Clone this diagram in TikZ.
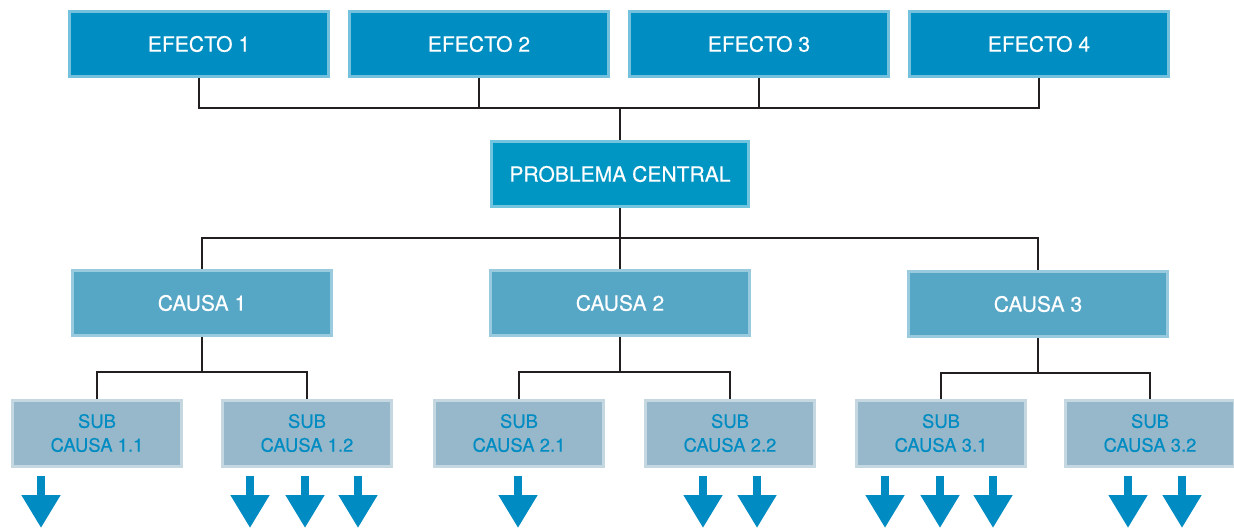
\documentclass[tikz,border=0pt]{standalone}
\usepackage{fontspec}
\setmainfont{TeX Gyre Heros}
\newfontfamily\boxfont{TeX Gyre Heros}[FakeBold=0.35]
\usetikzlibrary{arrows.meta,positioning}
\definecolor{efblue}{RGB}{0,142,194}
\definecolor{pcblue}{RGB}{0,150,196}
\definecolor{causablue}{RGB}{86,166,198}
\definecolor{subgray}{RGB}{150,184,202}
\definecolor{arrowblue}{RGB}{0,140,194}
\definecolor{linkgray}{RGB}{35,31,32}

\begin{document}
\begin{tikzpicture}[x=0.02cm, y=-0.02cm,
  box/.style={minimum width=5.18cm, minimum height=1.3cm, inner sep=0pt,
              line width=0.06cm, font=\boxfont\fontsize{12}{14}\selectfont},
  efecto/.style={box, fill=efblue, draw=efblue!55, text=white},
  central/.style={box, minimum width=5.14cm, minimum height=1.32cm, fill=pcblue, draw=pcblue!55, text=white},
  causa/.style={box, fill=causablue, draw=causablue!60, text=white},
  subbox/.style={box, minimum width=3.38cm, minimum height=1.32cm, fill=subgray,
                 draw=subgray!55, text=arrowblue, align=center,
                 font=\boxfont\fontsize{10.5}{13.6}\selectfont},
  link/.style={draw=linkgray, line width=0.05cm},
  down/.style={-{Triangle[length=6.6mm,width=7.4mm]}, arrowblue, line width=1.6mm}]
\useasboundingbox (0,0) rectangle (1234,531);

% effects
\node[efecto] (e1) at (199,44) {EFECTO 1};
\node[efecto] (e2) at (479,44) {EFECTO 2};
\node[efecto] (e3) at (759,44) {EFECTO 3};
\node[efecto] (e4) at (1039,44) {EFECTO 4};

% central problem
\node[central] (pc) at (620,174) {PROBLEMA CENTRAL};

% causes
\node[causa] (c1) at (202,303) {CAUSA 1};
\node[causa] (c2) at (620,303) {CAUSA 2};
\node[causa] (c3) at (1038,304) {CAUSA 3};

% sub causes
\node[subbox] (s11) at (97,433) {SUB\\CAUSA 1.1};
\node[subbox] (s12) at (307,433) {SUB\\CAUSA 1.2};
\node[subbox] (s21) at (519,433) {SUB\\CAUSA 2.1};
\node[subbox] (s22) at (730,433) {SUB\\CAUSA 2.2};
\node[subbox] (s31) at (941,433) {SUB\\CAUSA 3.1};
\node[subbox] (s32) at (1150,433) {SUB\\CAUSA 3.2};

% tree lines
\coordinate (jt) at (620,108);
\coordinate (jm) at (620,238);
\draw[link] (e1.south) |- (e4.south |- jt) -- (e4.south);
\foreach \e in {e2,e3}
  \draw[link] (\e.south) -- (\e.south |- jt);
\draw[link] (jt) -- (pc.north);
\draw[link] (pc.south) -- (jm);
\draw[link] (c1.north) |- (c3.north |- jm) -- (c3.north);
\draw[link] (c2.north) -- (c2.north |- jm);
\foreach \c/\a/\b in {c1/s11/s12, c2/s21/s22, c3/s31/s32} {
  \draw[link] (\c.south) -- ++(0,35) coordinate (\c j);
  \draw[link] (\a.north) |- (\c j) -| (\b.north);
}

% arrows below sub causes
\foreach \x in {41,250,305,358,518,703,757,885,940,993,1128,1182}
  \draw[down] (\x,476) -- (\x,528);
\end{tikzpicture}
\end{document}
